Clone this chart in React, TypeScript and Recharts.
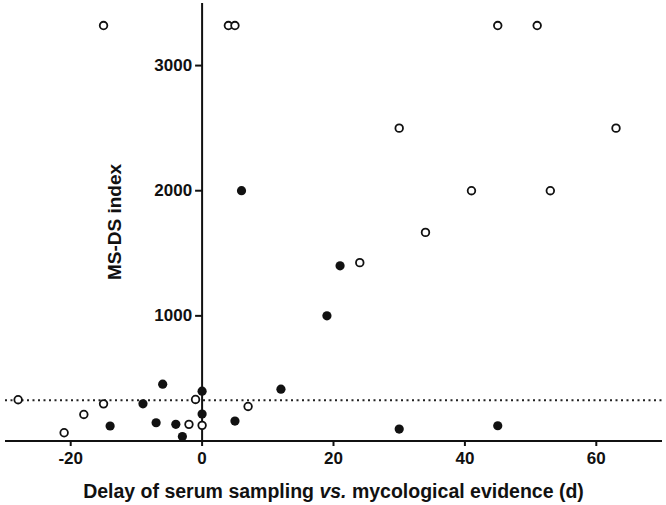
import React from "react";
import { ScatterChart, Scatter, XAxis, YAxis, ReferenceLine, ReferenceDot } from "recharts";

// filled circles
const filledPoints = [
  { x: -14, y: 120 }, { x: -9, y: 297 }, { x: -7, y: 146 }, { x: -6, y: 454 },
  { x: -4, y: 133 }, { x: -3, y: 35 }, { x: 0, y: 398 }, { x: 0, y: 215 },
  { x: 5, y: 159 }, { x: 6, y: 2000 }, { x: 12, y: 414 }, { x: 19, y: 1000 },
  { x: 21, y: 1400 }, { x: 30, y: 95 }, { x: 45, y: 122 },
];
// open circles
const openPoints = [
  { x: -28, y: 330 }, { x: -21, y: 66 }, { x: -18, y: 212 }, { x: -15, y: 297 },
  { x: -15, y: 3320 }, { x: -2, y: 133 }, { x: -1, y: 332 }, { x: 0, y: 125 },
  { x: 4, y: 3320 }, { x: 5, y: 3320 }, { x: 7, y: 276 }, { x: 24, y: 1425 },
  { x: 30, y: 2500 }, { x: 34, y: 1667 }, { x: 41, y: 2000 }, { x: 45, y: 3320 },
  { x: 51, y: 3320 }, { x: 53, y: 2000 }, { x: 63, y: 2500 },
];
const xTicks = [-20, 0, 20, 40, 60];
const yTicks = [1000, 2000, 3000];
const cutoff = 325;

const FONT = "'Liberation Sans', Arial, Helvetica, sans-serif";
const INK = "#111";

const FilledDot = (p: any) => <circle cx={p.cx} cy={p.cy} r={4.6} fill={INK} />;
const OpenDot = (p: any) => (
  <circle cx={p.cx} cy={p.cy} r={3.8} fill="#fff" stroke={INK} strokeWidth={1.8} />
);

const YTickMark = (p: any) => (
  <g>
    <line x1={p.cx - 7} y1={p.cy} x2={p.cx} y2={p.cy} stroke={INK} strokeWidth={2} />
    <text x={p.cx - 10} y={p.cy} textAnchor="end" dominantBaseline="central"
      fontFamily={FONT} fontWeight="bold" fontSize={17} fill={INK}>
      {p.label}
    </text>
  </g>
);

const YTitle = (p: any) => (
  <text x={p.cx - 88} y={p.cy} textAnchor="middle" dominantBaseline="central"
    transform={`rotate(-90 ${p.cx - 88} ${p.cy})`}
    fontFamily={FONT} fontWeight="bold" fontSize={19} fill={INK}>
    MS-DS index
  </text>
);

const XTitle = (props: any) => {
  const vb = props.viewBox || {};
  return (
    <text x={vb.x + vb.width / 2} y={498} textAnchor="middle"
      fontFamily={FONT} fontWeight="bold" fontSize={19.5} fill={INK}>
      Delay of serum sampling <tspan fontStyle="italic">vs.</tspan> mycological evidence (d)
    </text>
  );
};

export default function App() {
  return (
    <div style={{ position: "absolute", left: 0, top: 0, background: "#fff" }}>
      <ScatterChart width={666} height={505} margin={{ top: 3, right: 4, bottom: 0, left: 5 }}>
        <XAxis type="number" dataKey="x" domain={[-30, 70]} ticks={xTicks} allowDataOverflow
          height={64} tickSize={5} tickMargin={6}
          axisLine={{ stroke: INK, strokeWidth: 2 }} tickLine={{ stroke: INK, strokeWidth: 2 }}
          tick={{ fontFamily: FONT, fontWeight: "bold", fontSize: 17, fill: INK }}
          label={<XTitle />} />
        <YAxis type="number" dataKey="y" domain={[0, 3500]} ticks={yTicks} allowDataOverflow hide />
        <ReferenceLine x={0} stroke={INK} strokeWidth={2} />
        <ReferenceLine y={cutoff} stroke="#222" strokeWidth={2} strokeDasharray="2 3.5" />
        {yTicks.map((t) => (
          <ReferenceDot key={t} x={0} y={t} r={0}
            shape={(p: any) => <YTickMark {...p} label={t} />} />
        ))}
        <ReferenceDot x={0} y={1750} r={0} shape={(p: any) => <YTitle {...p} />} />
        <Scatter data={openPoints} shape={OpenDot} isAnimationActive={false} />
        <Scatter data={filledPoints} shape={FilledDot} isAnimationActive={false} />
      </ScatterChart>
    </div>
  );
}
